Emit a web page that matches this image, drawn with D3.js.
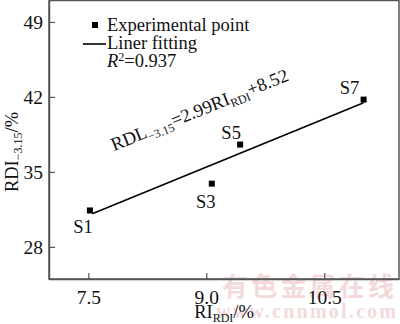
<!DOCTYPE html>
<html><head><meta charset="utf-8">
<script src="https://cdn.jsdelivr.net/npm/d3@7/dist/d3.min.js"></script>
<style>body{margin:0;background:#fff}svg{display:block}text{font-family:"Liberation Serif","Times New Roman",serif}</style>
</head><body><svg id="c" width="400" height="324"></svg>
<script>
const samples = ["S1","S3","S5","S7"];
const riValues = [7.52, 9.07, 9.43, 11.0];
const rdiValues = [31.4, 33.9, 37.55, 41.75];
const fitX = [7.55, 11.0];
const fitY = [31.1, 41.45];
const xTicks = [7.5, 9.0, 10.5];
const yTicks = [28, 35, 42, 49];
const labelDx = [-7, -6, -9, -14];
const labelDy = [23, 24, -6, -6];

const FS = "18.5px", SUB = "12px";
const svg = d3.select("#c");
const L = 49, R = 399, T = 0.5, B = 279;
const x = d3.scaleLinear().domain([7.0, 11.45]).range([L, R]);
const y = d3.scaleLinear().domain([25, 51]).range([B, T]);

// watermark
svg.append("text").attr("x", 222).attr("y", 296)
  .attr("textLength", 172).attr("lengthAdjust", "spacing")
  .style("font-family", '"Noto Sans CJK SC"').style("font-size", "26px").style("font-weight", "bold")
  .attr("fill", "#f3dada").text("有色金属在线");
svg.append("text").attr("x", 216).attr("y", 318)
  .attr("textLength", 180).attr("lengthAdjust", "spacing")
  .style("font-size", "20px").style("font-weight", "bold")
  .attr("fill", "#f3dada").text("www.cnnmol.com");

// frame
svg.append("rect").attr("x", L).attr("y", T).attr("width", R - L).attr("height", B - T)
  .attr("fill", "none").attr("stroke", "#555").attr("stroke-width", 1.5);

const xAxis = svg.append("g").attr("transform", `translate(0,${B})`)
  .call(d3.axisBottom(x).tickValues(xTicks).tickFormat(d3.format(".1f")).tickSizeInner(-6).tickSizeOuter(0).tickPadding(11));
const yAxis = svg.append("g").attr("transform", `translate(${L},0)`)
  .call(d3.axisLeft(y).tickValues(yTicks).tickFormat(d3.format("d")).tickSizeInner(-6).tickSizeOuter(0).tickPadding(6));
[xAxis, yAxis].forEach(g => {
  g.select(".domain").attr("stroke", "#555").attr("stroke-width", 1.5);
  g.selectAll(".tick line").attr("stroke", "#555").attr("stroke-width", 1.2);
  g.selectAll(".tick text").attr("fill", "#111").style("font-size", "19.5px").style("font-family", '"Liberation Serif",serif');
});

// fit line
const line = d3.line().x(d => x(d[0])).y(d => y(d[1]));
svg.append("path").datum(d3.zip(fitX, fitY)).attr("d", line)
  .attr("fill", "none").attr("stroke", "#000").attr("stroke-width", 1.6);

// points
const pts = d3.range(samples.length);
svg.selectAll("rect.pt").data(pts).join("rect").attr("class", "pt")
  .attr("x", i => x(riValues[i]) - 3).attr("y", i => y(rdiValues[i]) - 3)
  .attr("width", 6).attr("height", 6).attr("fill", "#000");
svg.selectAll("text.sl").data(pts).join("text").attr("class", "sl")
  .attr("x", i => x(riValues[i]) + labelDx[i]).attr("y", i => y(rdiValues[i]) + labelDy[i])
  .attr("text-anchor", "middle").style("font-size", FS).attr("fill", "#111").text(i => samples[i]);

// legend
svg.append("rect").attr("x", 92).attr("y", 22).attr("width", 6).attr("height", 6).attr("fill", "#000");
svg.append("text").attr("x", 107).attr("y", 31).style("font-size", FS).attr("fill", "#111").text("Experimental point");
svg.append("line").attr("x1", 83).attr("x2", 106).attr("y1", 44).attr("y2", 44).attr("stroke", "#000").attr("stroke-width", 1.6);
svg.append("text").attr("x", 107).attr("y", 49).style("font-size", FS).attr("fill", "#111").text("Liner fitting");
const r2 = svg.append("text").attr("x", 107).attr("y", 67).style("font-size", FS).attr("fill", "#111");
r2.append("tspan").style("font-style", "italic").text("R");
r2.append("tspan").style("font-size", SUB).attr("dy", -6).text("2");
r2.append("tspan").attr("dy", 6).text("=0.937");

// equation
const eq = svg.append("text").attr("transform", "translate(114,151) rotate(-22)")
  .style("font-size", FS).attr("fill", "#111");
eq.append("tspan").text("RDL");
eq.append("tspan").style("font-size", SUB).attr("dy", 4).text("−3.15");
eq.append("tspan").attr("dy", -4).text("=2.99RI");
eq.append("tspan").style("font-size", SUB).attr("dy", 4).text("RDI");
eq.append("tspan").attr("dy", -4).text("+8.52");

// axis titles
const xt = svg.append("text").attr("x", (L + R) / 2).attr("y", 318).attr("text-anchor", "middle")
  .style("font-size", FS).attr("fill", "#111");
xt.append("tspan").text("RI");
xt.append("tspan").style("font-size", SUB).attr("dy", 4).text("RDI");
xt.append("tspan").attr("dy", -4).text("/%");

const yt = svg.append("text").attr("transform", "translate(18,152) rotate(-90)").attr("text-anchor", "middle")
  .style("font-size", FS).attr("fill", "#111");
yt.append("tspan").text("RDI");
yt.append("tspan").style("font-size", SUB).attr("dy", 4).text("−3.15");
yt.append("tspan").attr("dy", -4).text("/%");
</script></body></html>
